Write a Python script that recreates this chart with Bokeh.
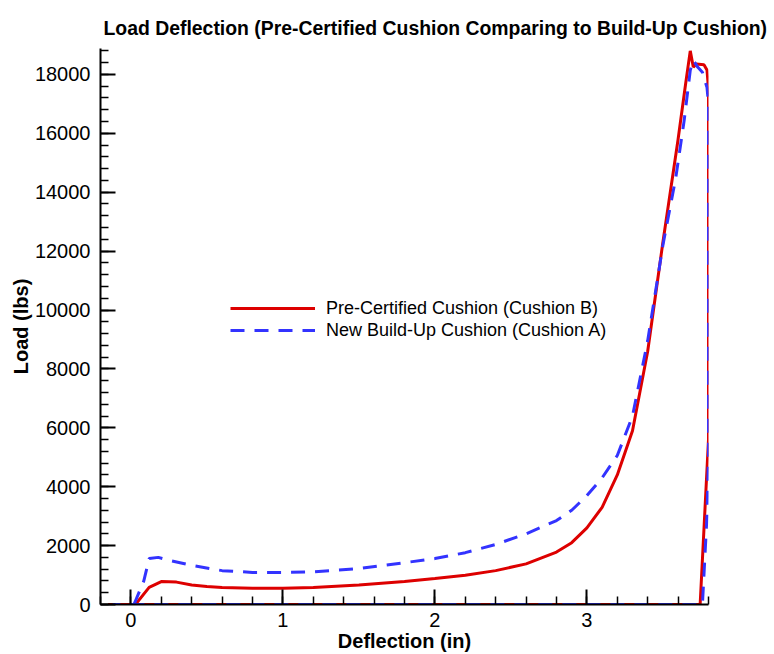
from bokeh.plotting import figure
from bokeh.models import Range1d, SingleIntervalTicker, Legend, LegendItem
from bokeh.embed import file_html
from bokeh.resources import INLINE

# Pre-Certified Cushion (Cushion B)
defl_b = [0.00, 0.03, 0.12, 0.20, 0.30, 0.40, 0.50, 0.60, 0.80, 1.00, 1.20, 1.50, 1.80,
          2.00, 2.20, 2.40, 2.60, 2.80, 2.90, 3.00, 3.10, 3.20, 3.30, 3.40, 3.50, 3.60,
          3.65, 3.68, 3.70, 3.72, 3.77, 3.79, 3.80, 3.80, 3.745, -0.15]
load_b = [0, 0, 580, 780, 760, 660, 610, 580, 555, 550, 580, 660, 780,
          880, 990, 1150, 1380, 1780, 2100, 2600, 3300, 4400, 5900, 8600, 12300, 15800,
          17700, 18800, 18250, 18350, 18330, 18150, 17500, 5600, 0, 0]

# New Build-Up Cushion (Cushion A)
defl_a = [0.02, 0.085, 0.12, 0.18, 0.26, 0.40, 0.60, 0.80, 1.00, 1.20, 1.50, 1.80,
          2.00, 2.20, 2.40, 2.60, 2.80, 2.90, 3.00, 3.10, 3.20, 3.30, 3.40, 3.50,
          3.585, 3.64, 3.68, 3.70, 3.73, 3.76, 3.79, 3.80, 3.80, 3.79, 3.77, 3.76, -0.12]
load_a = [0, 800, 1560, 1600, 1490, 1330, 1150, 1090, 1090, 1110, 1220, 1420,
          1560, 1760, 2040, 2400, 2850, 3200, 3700, 4300, 5060, 6400, 8960, 12200,
          14500, 16440, 18140, 18480, 18240, 18070, 17560, 17000, 5000, 3000, 1000, 0, 0]

FONT = "Liberation Sans"

p = figure(width=774, height=654, output_backend="svg", toolbar_location=None,
           x_range=Range1d(-0.2, 3.8), y_range=Range1d(0, 18880),
           min_border_left=100, min_border_right=66, min_border_top=48, min_border_bottom=50)

p.title.text = "Load Deflection (Pre-Certified Cushion Comparing to Build-Up Cushion)"
p.title.text_font = FONT
p.title.text_font_size = "19.4px"
p.title.text_font_style = "bold"
p.title.text_color = "black"
p.title.align = "left"
p.title.offset = 3
p.title.standoff = 19

p.xgrid.visible = False
p.ygrid.visible = False
p.outline_line_color = None

r_b = p.line(defl_b, load_b, line_color="#dd0000", line_width=3)
r_a = p.line(defl_a, load_a, line_color="#3333ff", line_width=3, line_dash="14 10")

for ax in (p.xaxis[0], p.yaxis[0]):
    ax.axis_line_width = 2
    ax.major_tick_line_width = 2
    ax.minor_tick_line_width = 1.5
    ax.major_tick_in = 15
    ax.major_tick_out = 0
    ax.minor_tick_in = 8
    ax.minor_tick_out = 0
    ax.major_label_text_font = FONT
    ax.major_label_text_font_size = "20px"
    ax.major_label_text_color = "black"
    ax.axis_label_text_font = FONT
    ax.axis_label_text_font_size = "20px"
    ax.axis_label_text_font_style = "bold"
    ax.axis_label_text_color = "black"

p.xaxis.ticker = SingleIntervalTicker(interval=1, num_minor_ticks=5)
p.yaxis.ticker = SingleIntervalTicker(interval=2000, num_minor_ticks=5)
p.xaxis.axis_label = "Deflection (in)"
p.yaxis.axis_label = "Load (lbs)"
p.xaxis.major_label_standoff = 8
p.yaxis.major_label_standoff = 10
p.xaxis.axis_label_standoff = 0
p.yaxis.axis_label_standoff = 0

legend = Legend(items=[
    LegendItem(label="Pre-Certified Cushion (Cushion B)", renderers=[r_b]),
    LegendItem(label="New Build-Up Cushion (Cushion A)", renderers=[r_a]),
], location=(130, 263))
legend.border_line_color = None
legend.background_fill_alpha = 0
legend.padding = 0
legend.margin = 0
legend.spacing = 0
legend.glyph_width = 85
legend.glyph_height = 22
legend.label_height = 22
legend.label_standoff = 11
legend.label_text_font = FONT
legend.label_text_font_size = "18px"
legend.label_text_color = "black"
p.add_layout(legend, "center")

open("out.html", "w").write(file_html(p, INLINE))
